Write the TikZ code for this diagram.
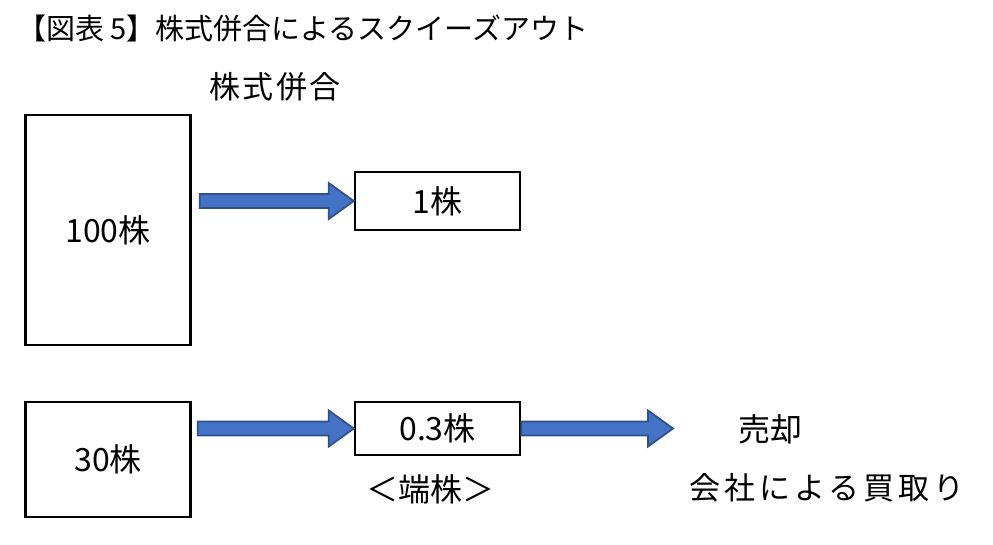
\documentclass[tikz,border=0pt]{standalone}
\usepackage{fontspec}
\setmainfont{Noto Sans CJK JP}
\newfontfamily\spacedfont[LetterSpace=8]{Noto Sans CJK JP}
\newfontfamily\widefont[LetterSpace=13]{Noto Sans CJK JP}
\usetikzlibrary{calc}

\definecolor{arrowblue}{HTML}{4472C4}
\definecolor{arrowedge}{HTML}{2F528F}

\begin{document}
\begin{tikzpicture}[x=1pt,y=-1pt,
  sharebox/.style={draw,line width=2.5pt,inner sep=0pt,minimum width=165pt,
    font=\fontsize{32}{34}\selectfont},
  caption/.style={inner sep=0pt,font=\fontsize{32}{34}\selectfont},
  blockarrow/.style={draw=arrowedge,fill=arrowblue,line width=1.8pt,
    to path={let \p1=(\tikztostart), \p2=(\tikztotarget) in
      (\x1,\y1+7pt) -- (\x2-25pt,\y1+7pt) -- (\x2-25pt,\y1+18pt) -- (\x2,\y1)
      -- (\x2-25pt,\y1-18pt) -- (\x2-25pt,\y1-7pt) -- (\x1,\y1-7pt) -- cycle}}
]
\useasboundingbox (0,0) rectangle (993,544);

% Heading and the consolidation label.
\node[anchor=west,inner sep=0pt,font=\fontsize{29}{31}\selectfont] (title)
  at (17,28) {【図表 5】株式併合によるスクイーズアウト};
\node[caption,font=\spacedfont\fontsize{31}{33}\selectfont] (merge)
  at (275,87) {株式併合};

% Upper row: 100 shares become one share.
\node[sharebox,minimum height=230pt] (hundred) at (108,230) {100株};
\node[sharebox,minimum height=58pt] (one) at (437.5,201) {1株};
\draw[blockarrow] ($(hundred.east |- one.west)+(8,0)$) to (one.west);

% Lower row: 30 shares leave a fraction that is sold.
\node[sharebox,minimum height=115pt] (thirty) at (108,459.5) {30株};
\node[sharebox,minimum height=53pt] (frac) at (437.5,428.5) {0.3株};
\node[caption] (odd) at (430,489) {＜端株＞};
\node[caption] (sale) at (770,429) {売却};
\node[caption,font=\widefont\fontsize{31}{33}\selectfont] (buyback)
  at (827,488) {会社による買取り};
\coordinate (sellend) at (673,427);
\draw[blockarrow] ($(thirty.east |- frac.west)+(6,0)$) to (frac.west);
\draw[blockarrow] (frac.east) to (sellend);
\end{tikzpicture}
\end{document}
